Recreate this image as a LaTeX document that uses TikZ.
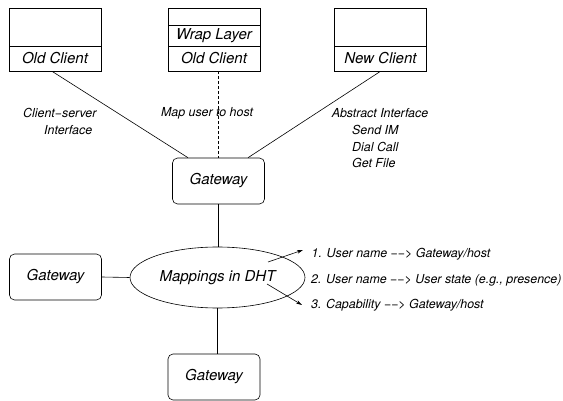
\documentclass[tikz,border=0pt]{standalone}
\usepackage{fontspec}
\setmainfont{TeX Gyre Heros}
\usetikzlibrary{shapes.geometric,arrows.meta,calc}
\begin{document}
\begin{tikzpicture}[x=1pt,y=-1pt,
  every node/.style={font=\itshape\fontsize{15}{18}\selectfont},
  lbl/.style={font=\itshape\fontsize{12.4}{16}\selectfont, inner sep=0pt},
  clientbox/.style={draw, line width=0.6pt, minimum width=92pt, minimum height=63pt, inner sep=0pt},
  gwbox/.style={draw, line width=0.6pt, rounded corners=5pt, minimum width=92pt, minimum height=46pt, inner sep=0pt},
  conn/.style={line width=0.6pt},
  arr/.style={line width=0.6pt, -{Stealth[length=6pt,width=3.5pt]}}
]
\useasboundingbox (0,0) rectangle (563,401);
% client boxes
\node[clientbox] (oc) at (55,39.5) {};
\draw[line width=0.6pt] (9,46) -- (101,46);
\node (oct) at (55,58.5) {Old Client};
\node[clientbox] (wc) at (214,39.5) {};
\draw[line width=0.6pt] (168,25) -- (260,25);
\draw[line width=0.6pt] (168,46) -- (260,46);
\node (wlt) at (214,35.5) {Wrap Layer};
\node (wct) at (214,58.5) {Old Client};
\node[clientbox] (nc) at (380.5,39.5) {};
\draw[line width=0.6pt] (334.5,46) -- (426.5,46);
\node (nct) at (380.5,58.5) {New Client};
% gateways
\node[gwbox] (gw) at (218.5,181) {Gateway};
\node[gwbox] (gwl) at (55.5,277) {Gateway};
\node[gwbox] (gwb) at (214,377) {Gateway};
% DHT
\node[draw, ellipse, line width=0.6pt, minimum width=175pt, minimum height=61pt, inner sep=0pt] (dht) at (217.5,277.5) {Mappings in DHT};
% connectors
\draw[conn] ([xshift=-3pt]oc.south) -- ([xshift=-30.5pt]gw.north);
\draw[conn, dashed, dash pattern=on 3pt off 2pt] (gw.north |- wc.south) -- (gw.north);
\draw[conn] ([xshift=29.5pt]gw.north) -- (nc.south);
\draw[conn] (gw.south) -- (gw.south |- dht.north);
\draw[conn] (gwl.east) -- (dht.west);
\draw[conn] (gwb.north -| dht.south) -- (dht.south);
% labels
\node[lbl, anchor=west] (cs1) at (23,113) {Client{\fontsize{12.4}{16}\selectfont−}server};
\node[lbl, anchor=west] (cs2) at (44,130) {Interface};
\node[lbl] (map) at (207,113) {Map user to host};
\node[lbl] (ai) at (380,113) {Abstract Interface};
\node[lbl, anchor=west] (ai2) at (352,130) {Send IM};
\node[lbl, anchor=west] (ai3) at (352,146.5) {Dial Call};
\node[lbl, anchor=west] (ai4) at (352,163) {Get File};
% mapping list
\node[lbl, anchor=west] (l1) at (311.5,254) {1. User name −−> Gateway/host};
\node[lbl, anchor=west] (l2) at (311,280) {2. User name −−> User state (e.g., presence)};
\node[lbl, anchor=west] (l3) at (311,305) {3. Capability −−> Gateway/host};
\coordinate (a1s) at (268,262);
\coordinate (a1e) at (303,250);
\coordinate (a2s) at (267,284);
\coordinate (a2e) at (302,305);
\draw[arr] (a1s) -- (a1e);
\draw[arr] (a2s) -- (a2e);
\end{tikzpicture}
\end{document}
